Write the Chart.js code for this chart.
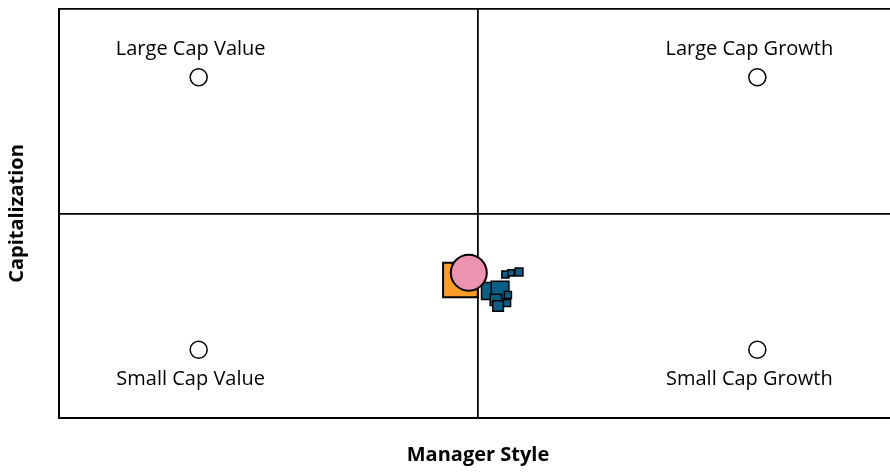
<!DOCTYPE html>
<html>
<head>
<meta charset="utf-8">
<script src="https://cdn.jsdelivr.net/npm/chart.js@4.4.0/dist/chart.umd.min.js"></script>
<style>
  html, body { margin: 0; padding: 0; background: #fff; overflow: hidden; }
  #chart { display: block; }
</style>
</head>
<body>
<canvas id="chart" width="900" height="474"></canvas>
<script>
// style box corners
const quadrantNames = ["Large Cap Value", "Large Cap Growth", "Small Cap Value", "Small Cap Growth"];
const quadrantX = [-100, 100, -100, 100];
const quadrantY = [100, 100, -100, -100];

// managers
const benchmarkX = [-6.3];
const benchmarkY = [-48.8];
const portfolioX = [-3.3];
const portfolioY = [-43.4];
const holdingsX = [9.8, 11.8, 14.7, 4.3, 7.9, 6.4, 7.2, 10.7, 10.4];
const holdingsY = [-44.7, -43.6, -42.9, -56.8, -56.1, -63.4, -67.8, -59.8, -65.6];
const holdingsRadius = [5, 4.5, 5.5, 12, 12.5, 8, 7.5, 5, 5];

const axisMin = -150;
const axisMax = 150;
const axisTicks = [-150, 0, 150];

const FONT = "'Open Sans', sans-serif";

function toPoints(xs, ys) {
  return xs.map((x, i) => ({ x: x, y: ys[i] }));
}

const quadrantLabels = {
  id: "quadrantLabels",
  afterDatasetsDraw(chart) {
    const meta = chart.getDatasetMeta(0);
    const ctx = chart.ctx;
    ctx.save();
    ctx.font = "20px " + FONT;
    ctx.fillStyle = "#000";
    ctx.textAlign = "center";
    ctx.textBaseline = "middle";
    meta.data.forEach((pt, i) => {
      const dy = quadrantY[i] > 0 ? -28 : 29;
      ctx.fillText(quadrantNames[i], pt.x - 8, pt.y + dy);
    });
    ctx.restore();
  }
};

function axis(title, pad) {
  return {
    type: "linear",
    min: axisMin,
    max: axisMax,
    afterBuildTicks: (s) => { s.ticks = axisTicks.map(v => ({ value: v })); },
    ticks: { display: false },
    grid: { color: "#000", lineWidth: 1.75, drawTicks: false },
    border: { display: true, color: "#000", width: 2 },
    title: {
      display: true,
      text: title,
      color: "#000",
      font: { family: FONT, size: 20, weight: "bold" },
      padding: pad
    }
  };
}

const xAxis = axis("Manager Style", { top: 0, bottom: 7 });
xAxis.afterFit = (s) => { s.height = 56; };
const yAxis = axis("Capitalization", { top: 5, bottom: 0 });
yAxis.afterFit = (s) => { s.width = 59; };

new Chart(document.getElementById("chart"), {
  type: "scatter",
  data: {
    datasets: [
      {
        label: "Style",
        data: toPoints(quadrantX, quadrantY),
        pointStyle: "circle",
        pointRadius: 8.5,
        pointBackgroundColor: "#fff",
        pointBorderColor: "#000",
        pointBorderWidth: 1.5,
        order: 4
      },
      {
        label: "Benchmark",
        data: toPoints(benchmarkX, benchmarkY),
        pointStyle: "rect",
        pointRadius: 24.5,
        pointBackgroundColor: "#F99D26",
        pointBorderColor: "#000",
        pointBorderWidth: 2,
        order: 3
      },
      {
        label: "Holdings",
        data: toPoints(holdingsX, holdingsY),
        pointStyle: "rect",
        pointRadius: holdingsRadius,
        pointBackgroundColor: "#0B5E85",
        pointBorderColor: "#000",
        pointBorderWidth: 1.5,
        order: 2
      },
      {
        label: "Portfolio",
        data: toPoints(portfolioX, portfolioY),
        pointStyle: "circle",
        pointRadius: 18,
        pointBackgroundColor: "#EE93AF",
        pointBorderColor: "#000",
        pointBorderWidth: 2,
        order: 1
      }
    ]
  },
  options: {
    responsive: false,
    animation: false,
    layout: { autoPadding: false, padding: { top: 9, right: 3, left: 0, bottom: 0 } },
    plugins: {
      legend: { display: false },
      tooltip: { enabled: false }
    },
    scales: { x: xAxis, y: yAxis }
  },
  plugins: [quadrantLabels]
});
</script>
</body>
</html>
